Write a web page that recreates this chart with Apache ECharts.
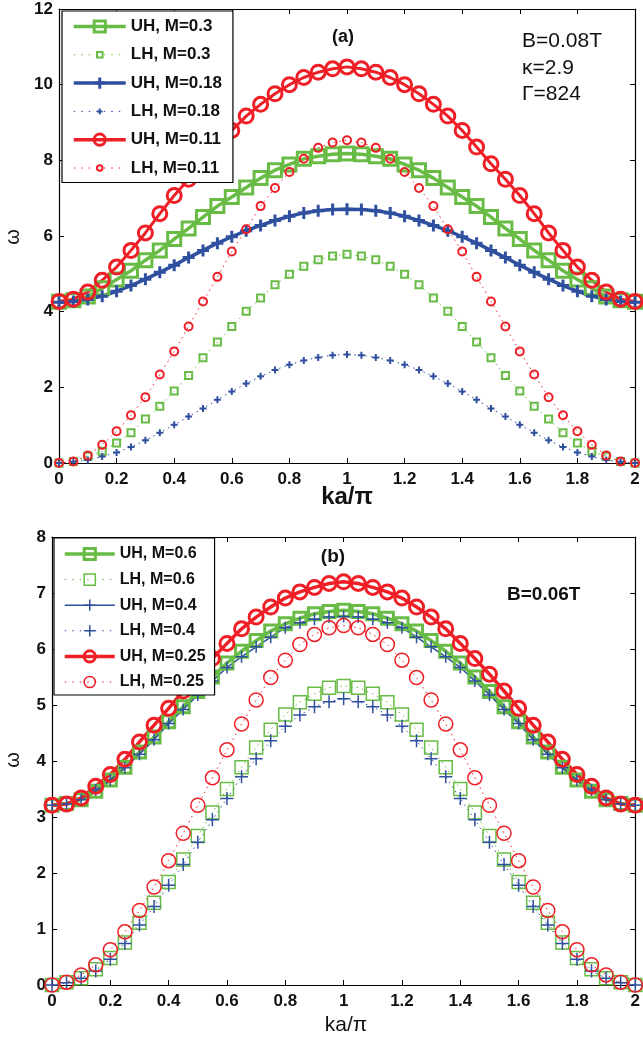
<!DOCTYPE html>
<html><head><meta charset="utf-8">
<script src="https://cdn.jsdelivr.net/npm/echarts@6/dist/echarts.min.js"></script>
<style>html,body{margin:0;padding:0;background:#fff}#c{width:643px;height:1040px}</style>
</head><body><div id="c"></div>
<script>
// x values (ka/pi)
const kaOverPi = [0,0.05,0.1,0.15,0.2,0.25,0.3,0.35,0.4,0.45,0.5,0.55,0.6,0.65,0.7,0.75,0.8,0.85,0.9,0.95,1,
  1.05,1.1,1.15,1.2,1.25,1.3,1.35,1.4,1.45,1.5,1.55,1.6,1.65,1.7,1.75,1.8,1.85,1.9,1.95,2];

// Panel (a): B=0.08T
const uhM03 = [4.26,4.30,4.40,4.62,4.85,5.08,5.36,5.62,5.92,6.20,6.50,6.79,7.03,7.28,7.53,7.74,7.89,8.04,8.11,8.16,8.18,
  8.16,8.11,8.04,7.89,7.74,7.53,7.28,7.03,6.79,6.50,6.20,5.92,5.62,5.36,5.08,4.85,4.62,4.40,4.30,4.26];
const lhM03 = [0,0.04,0.18,0.31,0.53,0.80,1.16,1.50,1.90,2.31,2.78,3.20,3.61,4.01,4.36,4.71,4.99,5.20,5.37,5.47,5.52,
  5.47,5.37,5.20,4.99,4.71,4.36,4.01,3.61,3.20,2.78,2.31,1.90,1.50,1.16,0.80,0.53,0.31,0.18,0.04,0];
const uhM018 = [4.25,4.27,4.32,4.41,4.54,4.69,4.86,5.04,5.23,5.43,5.62,5.81,5.98,6.14,6.28,6.41,6.52,6.61,6.67,6.70,6.71,
  6.70,6.67,6.61,6.52,6.41,6.28,6.14,5.98,5.81,5.62,5.43,5.23,5.04,4.86,4.69,4.54,4.41,4.32,4.27,4.25];
const lhM018 = [0,0.03,0.08,0.17,0.28,0.42,0.60,0.80,1.01,1.23,1.44,1.67,1.89,2.10,2.29,2.46,2.60,2.71,2.79,2.85,2.87,
  2.85,2.79,2.71,2.60,2.46,2.29,2.10,1.89,1.67,1.44,1.23,1.01,0.80,0.60,0.42,0.28,0.17,0.08,0.03,0];
const uhM011 = [4.27,4.33,4.52,4.83,5.18,5.62,6.08,6.59,7.07,7.50,7.91,8.35,8.79,9.17,9.48,9.76,10.00,10.19,10.33,10.42,10.47,
  10.42,10.33,10.19,10.00,9.76,9.48,9.17,8.79,8.35,7.91,7.50,7.07,6.59,6.08,5.62,5.18,4.83,4.52,4.33,4.27];
const lhM011 = [0,0.04,0.20,0.48,0.84,1.26,1.74,2.34,2.95,3.61,4.27,4.92,5.59,6.18,6.79,7.27,7.69,8.04,8.33,8.47,8.53,
  8.47,8.33,8.04,7.69,7.27,6.79,6.18,5.59,4.92,4.27,3.61,2.95,2.34,1.74,1.26,0.84,0.48,0.20,0.04,0];

// Panel (b): B=0.06T
const uhM06 = [3.21,3.24,3.31,3.46,3.66,3.89,4.16,4.43,4.70,4.97,5.24,5.50,5.75,5.96,6.15,6.32,6.45,6.55,6.63,6.67,6.69,
  6.67,6.63,6.55,6.45,6.32,6.15,5.96,5.75,5.50,5.24,4.97,4.70,4.43,4.16,3.89,3.66,3.46,3.31,3.24,3.21];
const lhM06 = [0,0.05,0.12,0.28,0.48,0.76,1.11,1.47,1.84,2.24,2.66,3.08,3.50,3.89,4.24,4.56,4.83,5.05,5.20,5.31,5.34,
  5.31,5.20,5.05,4.83,4.56,4.24,3.89,3.50,3.08,2.66,2.24,1.84,1.47,1.11,0.76,0.48,0.28,0.12,0.05,0];
const uhM04 = [3.21,3.23,3.31,3.48,3.66,3.88,4.12,4.38,4.67,4.92,5.18,5.43,5.67,5.86,6.04,6.21,6.38,6.47,6.53,6.57,6.58,
  6.57,6.53,6.47,6.38,6.21,6.04,5.86,5.67,5.43,5.18,4.92,4.67,4.38,4.12,3.88,3.66,3.48,3.31,3.23,3.21];
const lhM04 = [0,0.04,0.12,0.25,0.46,0.74,1.07,1.40,1.78,2.15,2.55,2.95,3.33,3.72,4.04,4.36,4.62,4.82,4.97,5.06,5.11,
  5.06,4.97,4.82,4.62,4.36,4.04,3.72,3.33,2.95,2.55,2.15,1.78,1.40,1.07,0.74,0.46,0.25,0.12,0.04,0];
const uhM025 = [3.21,3.23,3.34,3.55,3.76,4.03,4.34,4.64,4.94,5.25,5.55,5.83,6.10,6.36,6.57,6.75,6.91,7.02,7.10,7.17,7.20,
  7.17,7.10,7.02,6.91,6.75,6.57,6.36,6.10,5.83,5.55,5.25,4.94,4.64,4.34,4.03,3.76,3.55,3.34,3.23,3.21];
const lhM025 = [0,0.05,0.18,0.36,0.63,0.95,1.33,1.75,2.22,2.71,3.21,3.70,4.20,4.66,5.09,5.49,5.80,6.08,6.26,6.38,6.42,
  6.38,6.26,6.08,5.80,5.49,5.09,4.66,4.20,3.70,3.21,2.71,2.22,1.75,1.33,0.95,0.63,0.36,0.18,0.05,0];

const namesA = ['UH, M=0.3','LH, M=0.3','UH, M=0.18','LH, M=0.18','UH, M=0.11','LH, M=0.11'];
const namesB = ['UH, M=0.6','LH, M=0.6','UH, M=0.4','LH, M=0.4','UH, M=0.25','LH, M=0.25'];

const GREEN = '#68bc45', BLUE = '#2f4f9f', RED = '#ee1f26';
const FONT = 'Liberation Sans, Arial, Helvetica, sans-serif';
const PLUS = 'path://M0,-1L0,1M-1,0L1,0';
// half-size glyphs (padded bounds) so small markers stay small in the legend too
const SQ_S = 'path://M-2,-2M2,2M-1,-1L1,-1L1,1L-1,1Z';
const PLUS_S = 'path://M-2,-2M2,2M0,-1L0,1M-1,0L1,0';
const CIRC_S = 'path://M-2,-2M2,2M1,0A1,1,0,1,1,-1,0A1,1,0,1,1,1,0Z';
const DOT = [1.5, 4];

function pts(vals){ return kaOverPi.map((x,i)=>[x, vals[i]]); }
function ser(name, gi, vals, color, lineType, lw, symbol, size, bw){
  return {
    name, type:'line', xAxisIndex: gi*2, yAxisIndex: gi*2, data: pts(vals),
    showSymbol:true, showAllSymbol:true, clip:false, animation:false,
    symbol, symbolSize:size,
    lineStyle:{color, width:lw, type:lineType},
    itemStyle:{color:'rgba(255,255,255,0)', borderColor:color, borderWidth:bw},
    emphasis:{disabled:true}
  };
}
function xAxes(gi){
  const lab = {show:true, color:'#111', fontFamily:FONT, fontWeight:'bold', fontSize:17, margin:8,
    formatter: v => String(Math.round(v*10)/10)};
  const base = {gridIndex:gi, type:'value', min:0, max:2, interval:0.2,
    axisLine:{onZero:false, lineStyle:{color:'#000', width:1.2}},
    axisTick:{inside:true, length:5, lineStyle:{color:'#000', width:1}},
    splitLine:{show:false}};
  return [Object.assign({}, base, {position:'bottom', axisLabel:lab}),
          Object.assign({}, base, {position:'top', axisLabel:{show:false}})];
}
function yAxes(gi, max, interval){
  const lab = {show:true, color:'#111', fontFamily:FONT, fontWeight:'bold', fontSize:17, margin:6};
  const base = {gridIndex:gi, type:'value', min:0, max, interval,
    axisLine:{onZero:false, lineStyle:{color:'#000', width:1.2}},
    axisTick:{inside:true, length:5, lineStyle:{color:'#000', width:1}},
    splitLine:{show:false}};
  return [Object.assign({}, base, {position:'left', axisLabel:lab}),
          Object.assign({}, base, {position:'right', axisLabel:{show:false}})];
}
function legItem(name, lw, lt, bw){
  return {name, lineStyle:{width:lw, type:lt}, itemStyle:{borderWidth:bw}};
}

const chart = echarts.init(document.getElementById('c'), null, {renderer:'canvas'});
chart.setOption({
  backgroundColor:'#fff',
  animation:false,
  grid:[
    {left:59, right:8, top:9, height:454},
    {left:52, right:2, top:537, height:448}
  ],
  xAxis:[...xAxes(0), ...xAxes(1)],
  yAxis:[...yAxes(0, 12, 2), ...yAxes(1, 8, 1)],
  legend:[
    {left:62, top:11, orient:'vertical', padding:[7,11,6,10], itemWidth:52, itemHeight:14, itemGap:11.3,
     borderColor:'#000', borderWidth:1.2, backgroundColor:'#fff', selectedMode:false,
     textStyle:{fontFamily:FONT, fontWeight:'bold', fontSize:17, color:'#111'},
     data:[legItem(namesA[0],3.5,'solid',3), legItem(namesA[1],1,[1.5,6],2),
           legItem(namesA[2],3.5,'solid',3), legItem(namesA[3],1,[1.5,6],2),
           legItem(namesA[4],3.5,'solid',3), legItem(namesA[5],1,[1.5,6],2)]},
    {left:54, top:538, orient:'vertical', padding:[8,9,5,9], itemWidth:50, itemHeight:14, itemGap:9.6,
     borderColor:'#000', borderWidth:1.2, backgroundColor:'#fff', selectedMode:false,
     textStyle:{fontFamily:FONT, fontWeight:'bold', fontSize:16, color:'#111'},
     data:[legItem(namesB[0],3.5,'solid',3), legItem(namesB[1],1,[1.5,6],1.5),
           legItem(namesB[2],1.5,'solid',1.5), legItem(namesB[3],1,[1.5,6],1.5),
           legItem(namesB[4],3.5,'solid',3), legItem(namesB[5],1,[1.5,6],1.5)]}
  ],
  series:[
    ser(namesA[0], 0, uhM03, GREEN, 'solid', 3.5, 'rect', 13, 3),
    ser(namesA[1], 0, lhM03, GREEN, DOT, 1, SQ_S, 14, 2),
    ser(namesA[2], 0, uhM018, BLUE, 'solid', 3.5, PLUS, 12, 3),
    ser(namesA[3], 0, lhM018, BLUE, DOT, 1, PLUS_S, 14, 2),
    ser(namesA[4], 0, uhM011, RED, 'solid', 3, 'circle', 14, 3),
    ser(namesA[5], 0, lhM011, RED, DOT, 1, CIRC_S, 16, 2),
    ser(namesB[0], 1, uhM06, GREEN, 'solid', 3.5, 'rect', 12, 3),
    ser(namesB[1], 1, lhM06, GREEN, DOT, 1, 'rect', 13, 1.5),
    ser(namesB[2], 1, uhM04, BLUE, 'solid', 1.5, PLUS, 12, 1.5),
    ser(namesB[3], 1, lhM04, BLUE, DOT, 1, PLUS, 13, 1.5),
    ser(namesB[4], 1, uhM025, RED, 'solid', 3.5, 'circle', 14, 3),
    ser(namesB[5], 1, lhM025, RED, DOT, 1, 'circle', 14, 1.5)
  ],
  graphic:[
    {type:'text', x:343, y:37, style:{text:'(a)', font:'bold 18px '+FONT, fill:'#111', textAlign:'center', textVerticalAlign:'middle'}},
    {type:'text', x:522, y:41, style:{text:'B=0.08T', font:'21px '+FONT, fill:'#111', textAlign:'left', textVerticalAlign:'middle'}},
    {type:'text', x:522, y:68, style:{text:'κ=2.9', font:'21px '+FONT, fill:'#111', textAlign:'left', textVerticalAlign:'middle'}},
    {type:'text', x:522, y:94, style:{text:'Γ=824', font:'21px '+FONT, fill:'#111', textAlign:'left', textVerticalAlign:'middle'}},
    {type:'text', x:347, y:497, style:{text:'ka/π', font:'bold 24px '+FONT, fill:'#111', textAlign:'center', textVerticalAlign:'middle'}},
    {type:'text', x:13, y:237, rotation:Math.PI/2, style:{text:'ω', font:'20px '+FONT, fill:'#111', textAlign:'center', textVerticalAlign:'middle'}},
    {type:'text', x:333, y:557, style:{text:'(b)', font:'bold 19px '+FONT, fill:'#111', textAlign:'center', textVerticalAlign:'middle'}},
    {type:'text', x:507, y:595, style:{text:'B=0.06T', font:'bold 19px '+FONT, fill:'#111', textAlign:'left', textVerticalAlign:'middle'}},
    {type:'text', x:346, y:1025, style:{text:'ka/π', font:'21px '+FONT, fill:'#111', textAlign:'center', textVerticalAlign:'middle'}},
    {type:'text', x:13, y:760, rotation:Math.PI/2, style:{text:'ω', font:'20px '+FONT, fill:'#111', textAlign:'center', textVerticalAlign:'middle'}}
  ]
});
</script>
</body></html>
